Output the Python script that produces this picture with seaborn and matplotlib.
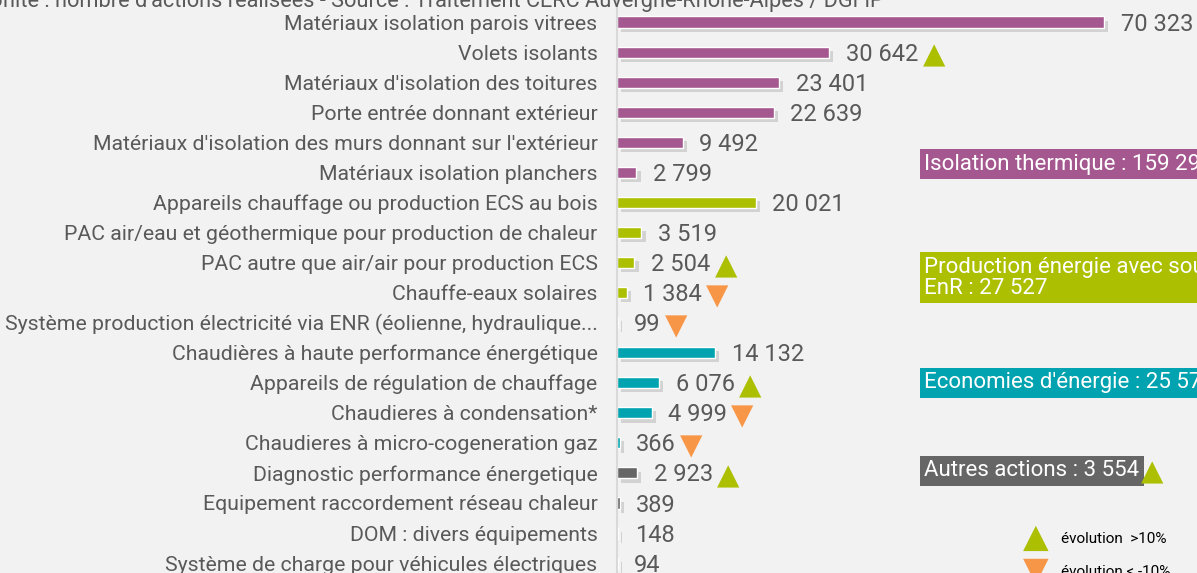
import matplotlib
matplotlib.use("Agg")
import matplotlib.pyplot as plt
import matplotlib.patheffects as pe
import matplotlib.transforms as mtransforms
import pandas as pd
import seaborn as sns

# Données : nombre d'actions réalisées par type d'équipement
labels = [
    "Matériaux isolation parois vitrees",
    "Volets isolants",
    "Matériaux d'isolation des toitures",
    "Porte entrée donnant extérieur",
    "Matériaux d'isolation des murs donnant sur l'extérieur",
    "Matériaux isolation planchers",
    "Appareils chauffage ou production ECS au bois",
    "PAC air/eau et géothermique pour production de chaleur",
    "PAC autre que air/air pour production ECS",
    "Chauffe-eaux solaires",
    "Système production électricité via ENR (éolienne, hydraulique...",
    "Chaudières à haute performance énergétique",
    "Appareils de régulation de chauffage",
    "Chaudieres à condensation*",
    "Chaudieres à micro-cogeneration gaz",
    "Diagnostic performance énergetique",
    "Equipement raccordement réseau chaleur",
    "DOM : divers équipements",
    "Système de charge pour véhicules électriques",
]
values = [70323, 30642, 23401, 22639, 9492, 2799,
          20021, 3519, 2504, 1384, 99,
          14132, 6076, 4999, 366,
          2923, 389, 148, 94]
groups = ["iso"] * 6 + ["enr"] * 5 + ["eco"] * 4 + ["autres"] * 4
trends = ["", "up", "", "", "", "",
          "", "", "up", "down", "down",
          "", "up", "down", "down",
          "up", "", "", ""]

group_order = ["iso", "enr", "eco", "autres"]
group_titles = ["Isolation thermique", "Production énergie avec sources\nEnR",
                "Economies d'énergie", "Autres actions"]
group_trends = ["", "", "", "up"]
group_rows = [4.73, 8.5, 12.0, 14.93]

BG = "#f2f2f2"
TXT = "#595959"
GREEN = "#acbf00"
ORANGE = "#f79646"
group_colors = {"iso": "#a5588f", "enr": GREEN, "eco": "#00a3af", "autres": "#666666"}


def fmt(v):
    return f"{v:,}".replace(",", " ")


sns.set_theme(style="white", rc={"axes.facecolor": BG, "figure.facecolor": BG})
plt.rcParams["font.family"] = ["Roboto", "DejaVu Sans"]

fig = plt.figure(figsize=(11.97, 5.73), dpi=100)
ax = fig.add_axes([617 / 1197, 0, 1 - 617 / 1197, 1])

df = pd.DataFrame({"label": labels, "value": values, "group": groups})
sns.barplot(data=df, x="value", y="label", hue="group", palette=group_colors,
            dodge=False, width=0.37, saturation=1, legend=False, ax=ax)

for bar in ax.patches:
    bar.set_path_effects([pe.SimplePatchShadow(offset=(3, -3), shadow_rgbFace="#000000", alpha=0.13),
                          pe.Normal()])

ax.set_xlim(0, 70323 * 580 / 487)
ax.set_ylim(18.33, -0.732)
ax.set_xlabel("")
ax.set_ylabel("")
ax.set_xticks([])
ax.tick_params(axis="y", length=0, pad=14, labelsize=15.3, labelcolor=TXT)
for side in ["top", "right", "bottom"]:
    ax.spines[side].set_visible(False)
ax.spines["left"].set_color("#d9d9d9")
ax.spines["left"].set_linewidth(1.5)

# Valeurs et flèches d'évolution
for i, (v, t) in enumerate(zip(values, trends)):
    txt = ax.annotate(fmt(v), xy=(v, i), xytext=(12, -1.5), textcoords="offset points",
                      va="center", ha="left", fontsize=17, color=TXT)
    if t:
        ax.annotate("▲" if t == "up" else "▼", xy=(1, 0.5), xycoords=txt,
                    xytext=(3, -1), textcoords="offset points", va="center", ha="left",
                    fontsize=21, color=GREEN if t == "up" else ORANGE,
                    family="DejaVu Sans")

# Encadrés des totaux par famille
trans = mtransforms.blended_transform_factory(ax.transAxes, ax.transData)
for g, title, row, t in zip(group_order, group_titles, group_rows, group_trends):
    total = sum(v for v, gg in zip(values, groups) if gg == g)
    box = ax.text(0.530, row, f"{title} : {fmt(total)}", transform=trans, va="center", ha="left",
                  fontsize=16, color="white", linespacing=1.0,
                  bbox=dict(boxstyle="square,pad=0.2", fc=group_colors[g], ec="none"))
    if t:
        ax.annotate("▲", xy=(1, 0.5), xycoords=box, xytext=(1, -1), textcoords="offset points",
                    va="center", ha="left", fontsize=21, color=GREEN, family="DejaVu Sans")

# Légende des flèches
ax.text(0.700, 17.15, "▲", transform=trans, va="center", ha="left", fontsize=24,
        color=GREEN, family="DejaVu Sans")
ax.text(0.765, 17.2, "évolution  >10%", transform=trans, va="center", ha="left",
        fontsize=11, color="black")
ax.text(0.700, 18.25, "▼", transform=trans, va="center", ha="left", fontsize=24,
        color=ORANGE, family="DejaVu Sans")
ax.text(0.765, 18.3, "évolution < -10%", transform=trans, va="center", ha="left",
        fontsize=11, color="black")

fig.text(-11 / 1197, 1 - 0.002, "Unité : nombre d'actions réalisées - Source : Traitement CERC Auvergne-Rhône-Alpes / DGFiP",
         va="center", ha="left", fontsize=15.7, color=TXT)

fig.savefig("out.png", dpi=100, facecolor=BG)
